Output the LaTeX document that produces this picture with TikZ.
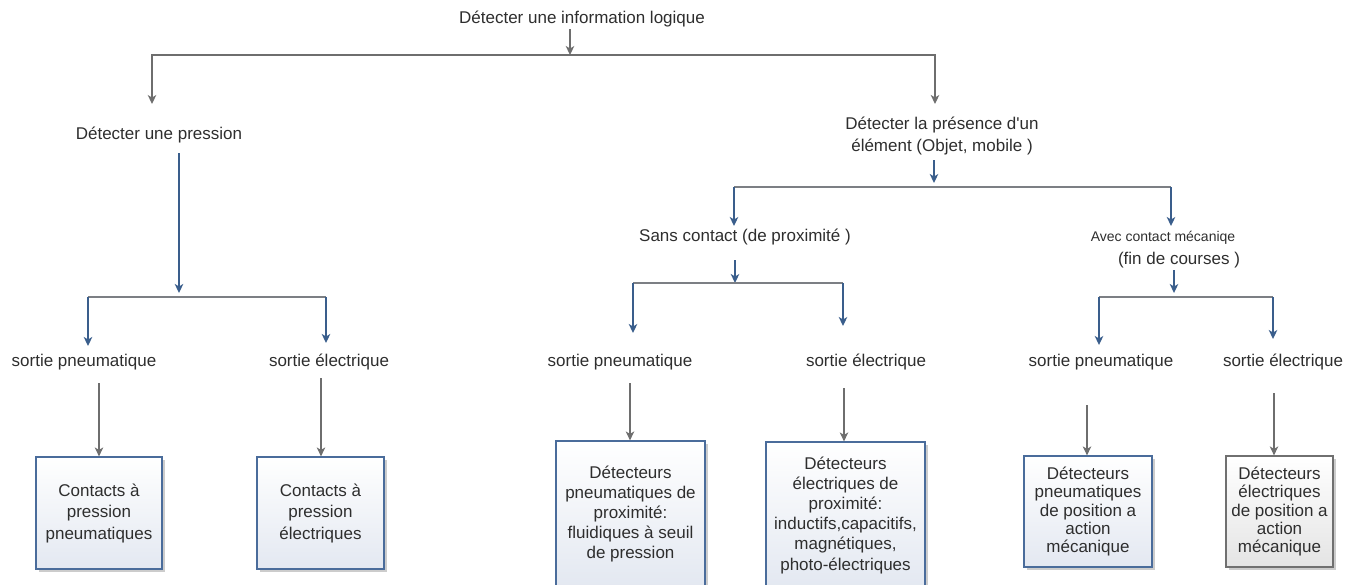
\documentclass[tikz,border=0pt]{standalone}
\usepackage{fontspec}
\setmainfont{Liberation Sans}[Ligatures=TeXOff]
\usetikzlibrary{arrows.meta,shadows}

\definecolor{ink}{HTML}{2E2E2E}
\definecolor{linegray}{HTML}{6E6E6E}
\definecolor{bargray}{HTML}{7C7F84}
\definecolor{lineblue}{HTML}{3A5E8C}
\definecolor{cardedge}{HTML}{4A6C9B}
\definecolor{cardfill}{HTML}{E3E8F1}
\definecolor{cardgrayedge}{HTML}{707070}
\definecolor{cardgrayfill}{HTML}{E4E4E4}

\tikzset{
  lbl/.style={font=\fontsize{17}{22}\selectfont, text=ink, inner sep=0pt, align=center},
  lblsmall/.style={font=\fontsize{14}{21}\selectfont, text=ink, inner sep=0pt, align=center},
  tip/.style={-{Stealth[length=9pt,width=8.5pt,inset=2.5pt]}},
  grayarr/.style={tip, draw=linegray, line width=1.2pt},
  bluearr/.style={tip, draw=lineblue, line width=1.4pt},
  barline/.style={draw=bargray, line width=1.4pt},
  card/.style={draw=cardedge, line width=1.2pt, top color=white, bottom color=cardfill,
    text=ink, align=center, inner sep=0pt,
    drop shadow={shadow xshift=2.5pt, shadow yshift=-2.5pt, fill=black, opacity=0.2}},
  cardgray/.style={card, draw=cardgrayedge, bottom color=cardgrayfill},
}

\begin{document}
\begin{tikzpicture}[x=1pt, y=-1pt]
  \useasboundingbox (0,0) rectangle (1359,584);
  \clip (0,0) rectangle (1359,584);

  % ---- labels ----
  \node[lbl] (root) at (582,19) {Détecter une information logique};
  \node[lbl] (press) at (159,135) {Détecter une pression};
  \node[lbl] (pres) at (942,136.5) {Détecter la présence d'un\\élément (Objet, mobile )};
  \node[lbl] (sans) at (745,237) {Sans contact (de proximité )};
  \node[lblsmall, align=center] (avec) at (1163,249.5)
    {Avec contact mécaniqe\\[2pt]\fontsize{17}{22}\selectfont\hspace*{32pt}(fin de courses )};

  \node[lbl] (s1) at (84,362) {sortie pneumatique};
  \node[lbl] (s2) at (329,362) {sortie électrique};
  \node[lbl] (s3) at (620,362) {sortie pneumatique};
  \node[lbl] (s4) at (866,362) {sortie électrique};
  \node[lbl] (s5) at (1101,362) {sortie pneumatique};
  \node[lbl] (s6) at (1283,362) {sortie électrique};

  % ---- result boxes ----
  \node[card, minimum width=126pt, minimum height=112pt,
        font=\fontsize{17}{21.5}\selectfont] (b1) at (99,513)
    {Contacts à\\pression\\pneumatiques};
  \node[card, minimum width=127pt, minimum height=112pt,
        font=\fontsize{17}{21.5}\selectfont] (b2) at (320.5,513)
    {Contacts à\\pression\\électriques};
  \node[card, minimum width=149pt, minimum height=146pt,
        font=\fontsize{17}{19.8}\selectfont] (b3) at (630.5,514)
    {Détecteurs\\pneumatiques de\\proximité:\\fluidiques à seuil\\de pression};
  \node[card, minimum width=159pt, minimum height=146pt,
        font=\fontsize{17}{20.2}\selectfont] (b4) at (845.5,515)
    {Détecteurs\\électriques de\\proximité:\\inductifs,capacitifs,\\magnétiques,\\photo-électriques};
  \node[card, minimum width=128pt, minimum height=111pt,
        font=\fontsize{17}{18.4}\selectfont] (b5) at (1088,511.5)
    {Détecteurs\\pneumatiques\\de position a\\action\\mécanique};
  \node[cardgray, minimum width=107pt, minimum height=111pt,
        font=\fontsize{17}{18.4}\selectfont] (b6) at (1279.5,511.5)
    {Détecteurs\\électriques\\de position a\\action\\mécanique};

  % ---- connector end points ----
  \coordinate (r0) at (570,29);   \coordinate (r1) at (570,55);
  \coordinate (k0L) at (152,55);  \coordinate (k0R) at (935,55);
  \coordinate (k0Ld) at (152,104); \coordinate (k0Rd) at (935,104);

  \coordinate (p0) at (179,153);  \coordinate (p1) at (179,293);
  \coordinate (k1L) at (88,297);  \coordinate (k1R) at (326,297);
  \coordinate (k1Ld) at (88,346); \coordinate (k1Rd) at (326,343);

  \coordinate (e0) at (934,160);  \coordinate (e1) at (934,183);
  \coordinate (k2L) at (734,187); \coordinate (k2R) at (1171,187);
  \coordinate (k2Ld) at (734,226); \coordinate (k2Rd) at (1171,226);

  \coordinate (c0) at (735,260);  \coordinate (c1) at (735,283);
  \coordinate (k3L) at (633,283); \coordinate (k3R) at (843,283);
  \coordinate (k3Ld) at (633,333); \coordinate (k3Rd) at (843,326);

  \coordinate (m0) at (1174,270); \coordinate (m1) at (1174,293);
  \coordinate (k4L) at (1099,297); \coordinate (k4R) at (1273,297);
  \coordinate (k4Ld) at (1099,345); \coordinate (k4Rd) at (1273,339);

  \coordinate (o1) at (99,383);   \coordinate (o2) at (321,378);
  \coordinate (o3) at (630,383);  \coordinate (o4) at (844,388);
  \coordinate (o5) at (1087,405); \coordinate (o6) at (1274,393);

  % ---- first split (gray) ----
  \draw[grayarr] (r0) -- (r1);
  \draw[draw=linegray, line width=1.2pt,
        {Stealth[length=9pt,width=8.5pt,inset=2.5pt]}-{Stealth[length=9pt,width=8.5pt,inset=2.5pt]}]
    (k0Ld) -- (k0L) -- (k0R) -- (k0Rd);

  % ---- pressure branch ----
  \draw[bluearr] (p0) -- (p1);
  \draw[barline] (k1L) -- (k1R);
  \draw[bluearr] (k1L) -- (k1Ld);
  \draw[bluearr] (k1R) -- (k1Rd);

  % ---- presence branch ----
  \draw[bluearr] (e0) -- (e1);
  \draw[barline] (k2L) -- (k2R);
  \draw[bluearr] (k2L) -- (k2Ld);
  \draw[bluearr] (k2R) -- (k2Rd);

  \draw[bluearr] (c0) -- (c1);
  \draw[barline] (k3L) -- (k3R);
  \draw[bluearr] (k3L) -- (k3Ld);
  \draw[bluearr] (k3R) -- (k3Rd);

  \draw[bluearr] (m0) -- (m1);
  \draw[barline] (k4L) -- (k4R);
  \draw[bluearr] (k4L) -- (k4Ld);
  \draw[bluearr] (k4R) -- (k4Rd);

  % ---- outputs to boxes (gray) ----
  \draw[grayarr] (o1) -- (b1.north -| o1);
  \draw[grayarr] (o2) -- (b2.north -| o2);
  \draw[grayarr] (o3) -- (b3.north -| o3);
  \draw[grayarr] (o4) -- (b4.north -| o4);
  \draw[grayarr] (o5) -- (b5.north -| o5);
  \draw[grayarr] (o6) -- (b6.north -| o6);
\end{tikzpicture}
\end{document}
